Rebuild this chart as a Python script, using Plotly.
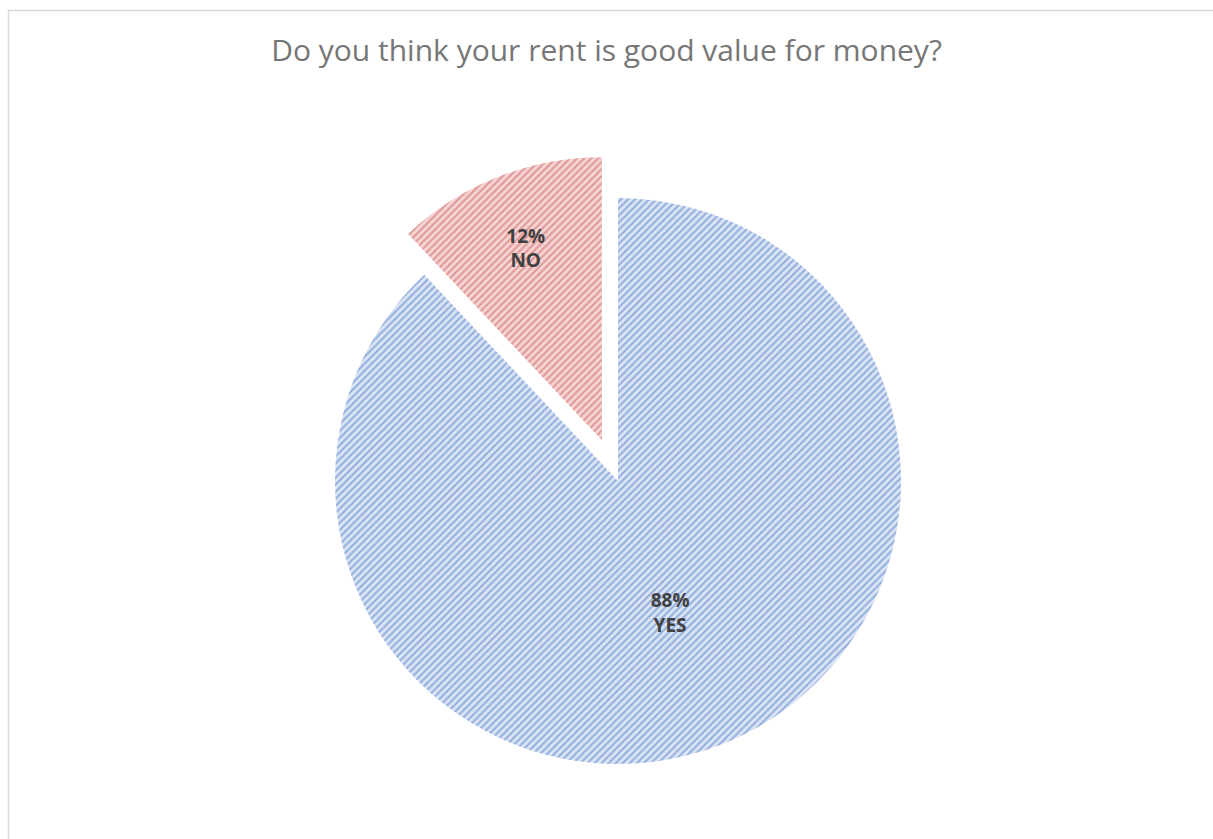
import plotly.graph_objects as go

labels = ["YES", "NO"]
values = [88, 12]
pulls = [0, 0.155]
bg_colors = ["#d9e3f4", "#f5d3d2"]
fg_colors = ["#4a78c6", "#c55a57"]

W, H = 1213, 839
cx, cy, r = 618, 481, 283
half = r * (1 + max(pulls))

fig = go.Figure(go.Pie(
    labels=labels,
    values=values,
    pull=pulls,
    sort=False,
    direction="clockwise",
    rotation=0,
    texttemplate="<b>%{percent:.0%}<br>%{label}</b>",
    textposition="inside",
    insidetextorientation="horizontal",
    textfont=dict(family="Open Sans", size=19, color="#404040"),
    marker=dict(
        colors=bg_colors,
        line=dict(color="rgba(255,255,255,0)", width=0),
        pattern=dict(shape="/", bgcolor=bg_colors, fgcolor=fg_colors,
                     size=5, solidity=0.4, fillmode="overlay"),
    ),
    domain=dict(x=[(cx - half) / W, (cx + half) / W],
                y=[(H - cy - half) / H, (H - cy + half) / H]),
    showlegend=False,
    hoverinfo="label+percent",
))

fig.update_layout(
    width=W, height=H,
    margin=dict(l=0, r=0, t=0, b=0),
    paper_bgcolor="white",
    title=dict(text="Do you think your rent is good value for money?",
               x=0.5, xanchor="center", y=1 - 50 / H, yanchor="middle",
               font=dict(family="Open Sans", size=30, color="#767676")),
    shapes=[dict(type="rect", xref="paper", yref="paper",
                 x0=8.5 / W, x1=1.2, y0=-0.2, y1=1 - 10.5 / H,
                 line=dict(color="#d9d9d9", width=1.5), fillcolor="rgba(0,0,0,0)")],
)

fig.write_html("out.html")
